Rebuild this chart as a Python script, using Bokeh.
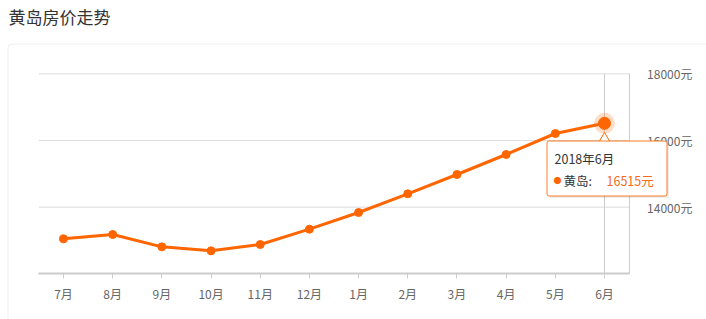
from bokeh.plotting import figure
from bokeh.models import (Range1d, FixedTicker, PrintfTickFormatter, LinearAxis,
                          BoxAnnotation, Label)
from bokeh.embed import file_html
from bokeh.resources import INLINE

title_text = "黄岛房价走势"
series_name = "黄岛"
months = ["7月", "8月", "9月", "10月", "11月", "12月", "1月", "2月", "3月", "4月", "5月", "6月"]
prices = [13050, 13180, 12810, 12690, 12880, 13340, 13840, 14400, 14980, 15580, 16210, 16515]
y_ticks = [14000, 16000, 18000]
y_base = 12000
hover_label = "2018年6月"

ORANGE = "#ff6600"
FONT = "Noto Sans CJK SC"

x_idx = list(range(len(months)))
x_lo, x_hi = x_idx[0] - 0.5, x_idx[-1] + 0.5

p = figure(width=706, height=319,
           x_range=Range1d(-1.281, 13.074),
           y_range=Range1d(10630, 20200),
           x_axis_type=None, y_axis_type=None,
           output_backend="svg", toolbar_location=None,
           min_border_left=0, min_border_right=0,
           min_border_top=0, min_border_bottom=0)
p.outline_line_color = None
p.background_fill_color = "white"
p.border_fill_color = "white"

# outer panel box
p.add_layout(BoxAnnotation(left=7.5, right=730, top=275.5, bottom=-30,
                           left_units="screen", right_units="screen",
                           top_units="screen", bottom_units="screen",
                           fill_color=None, line_color="#c8c8c8", line_width=1,
                           border_radius=4, level="underlay"))

# title
p.add_layout(Label(x=8, y=303.5, x_units="screen", y_units="screen",
                   text=title_text, text_font=FONT, text_font_size="17px",
                   text_color="#333333", text_baseline="middle"))

# horizontal grid lines
p.segment(x0=[x_lo] * len(y_ticks), y0=y_ticks, x1=[x_hi] * len(y_ticks), y1=y_ticks,
          line_color="#dddddd", line_width=1)

# x axis
xa = LinearAxis(ticker=FixedTicker(ticks=x_idx),
                major_label_overrides={i: m for i, m in zip(x_idx, months)},
                fixed_location=y_base, bounds=(x_lo, x_hi))
xa.axis_line_color = "#cccccc"
xa.axis_line_width = 2
xa.major_tick_line_color = "#cccccc"
xa.major_tick_out = 5
xa.major_tick_in = 0
xa.minor_tick_line_color = None
xa.major_label_text_color = "#666666"
xa.major_label_text_font = FONT
xa.major_label_text_font_size = "12px"
xa.major_label_standoff = 6
p.add_layout(xa, "below")

# y axis (right side of plot area)
ya = LinearAxis(ticker=FixedTicker(ticks=y_ticks),
                formatter=PrintfTickFormatter(format="%d元"),
                fixed_location=x_hi, bounds=(y_base, y_ticks[-1]))
ya.axis_line_color = "#cccccc"
ya.major_tick_line_color = None
ya.minor_tick_line_color = None
ya.major_label_text_color = "#666666"
ya.major_label_text_font = FONT
ya.major_label_text_font_size = "12px"
ya.major_label_standoff = 12
p.add_layout(ya, "right")

# crosshair at last month
p.segment(x0=[x_idx[-1]], y0=[y_base], x1=[x_idx[-1]], y1=[y_ticks[-1]],
          line_color="#cccccc", line_width=1)

# series
p.line(x_idx, prices, line_color=ORANGE, line_width=3)
p.scatter(x_idx, prices, size=8, fill_color=ORANGE, line_color=ORANGE)

# highlighted point
p.scatter([x_idx[-1]], [prices[-1]], size=21, fill_color=ORANGE, fill_alpha=0.22, line_color=None)
p.scatter([x_idx[-1]], [prices[-1]], size=12, fill_color=ORANGE, line_color=ORANGE)

# tooltip caret
p.scatter([x_idx[-1]], [prices[-1] - 480], marker="triangle", size=12,
          fill_color="white", line_color=ORANGE, line_width=1)

# tooltip box (shadow + box)
p.add_layout(BoxAnnotation(left=548.5, right=668.5, top=176.5, bottom=121.5,
                           left_units="screen", right_units="screen",
                           top_units="screen", bottom_units="screen",
                           fill_color="#000000", fill_alpha=0.07, line_color=None,
                           border_radius=2, level="annotation"))
p.add_layout(BoxAnnotation(left=546.5, right=666.5, top=178.5, bottom=123.5,
                           left_units="screen", right_units="screen",
                           top_units="screen", bottom_units="screen",
                           fill_color="white", fill_alpha=1, line_color=ORANGE,
                           line_alpha=0.85, line_width=1, border_radius=2,
                           level="annotation"))
p.add_layout(Label(x=554, y=161.5, x_units="screen", y_units="screen",
                   text=hover_label, text_font=FONT, text_font_size="12.5px",
                   text_color="#333333", text_baseline="middle", level="overlay"))
p.add_layout(Label(x=557, y=139.5, x_units="screen", y_units="screen",
                   text="●", text_font=FONT, text_font_size="8px", text_align="center",
                   text_color=ORANGE, text_baseline="middle", level="overlay"))
p.add_layout(Label(x=563, y=139.5, x_units="screen", y_units="screen",
                   text=series_name + ":", text_font=FONT, text_font_size="12.5px",
                   text_color="#333333", text_baseline="middle", level="overlay"))
p.add_layout(Label(x=606, y=139.5, x_units="screen", y_units="screen",
                   text=f"{prices[-1]}元", text_font=FONT, text_font_size="12.5px",
                   text_color="#f26a1b", text_baseline="middle", level="overlay"))

open("out.html", "w").write(file_html(p, INLINE))
